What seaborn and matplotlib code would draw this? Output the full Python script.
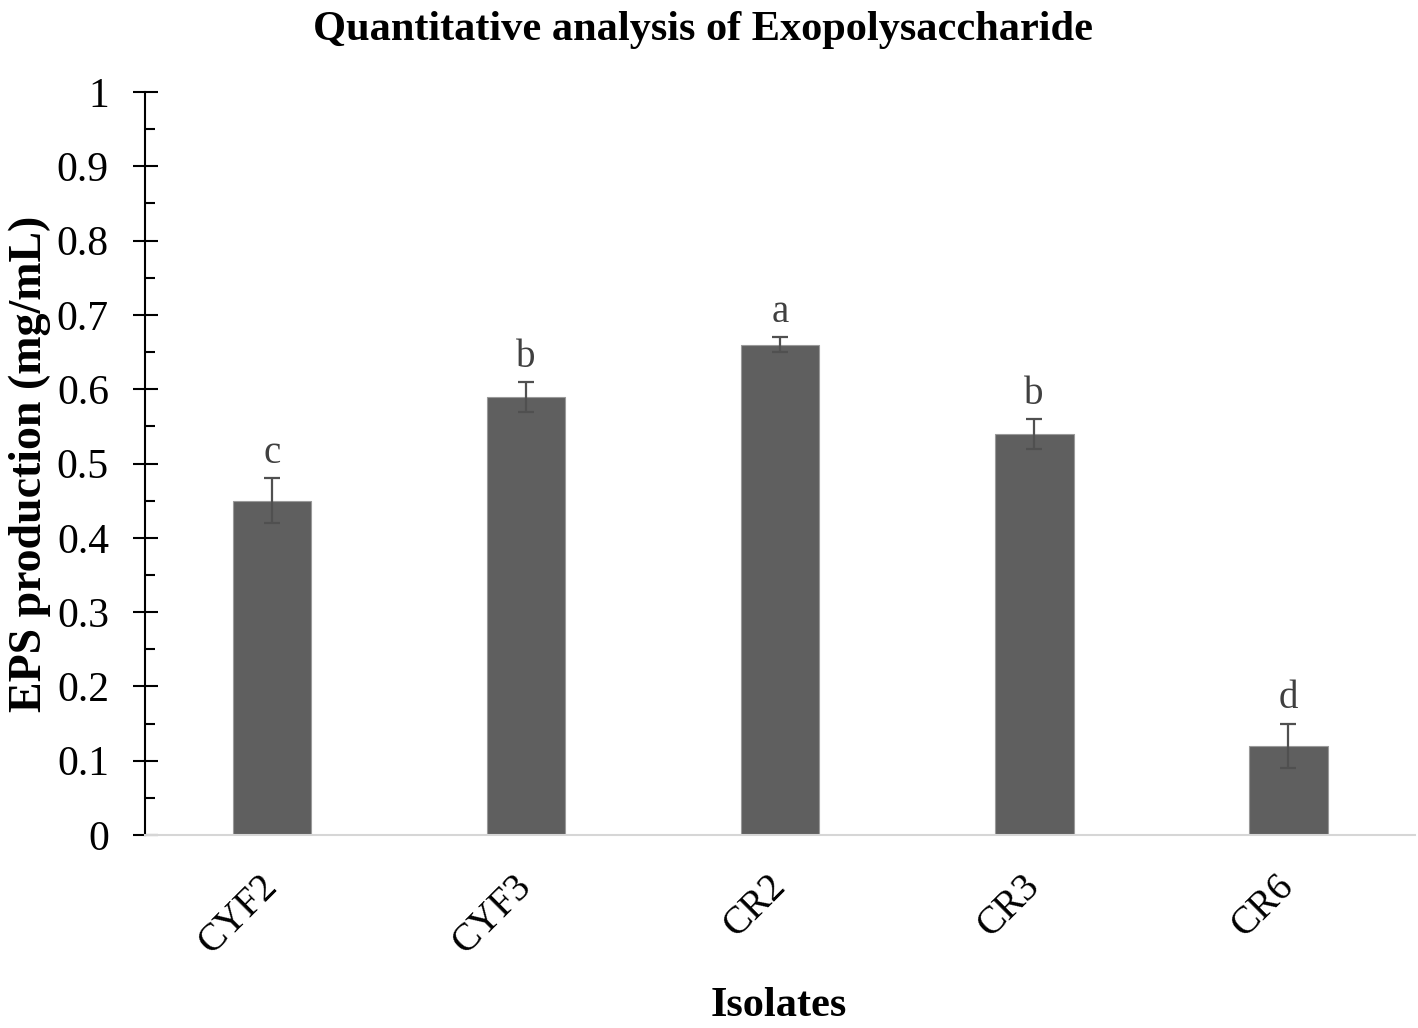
import matplotlib
matplotlib.use("Agg")
import matplotlib.pyplot as plt
import seaborn as sns
import pandas as pd
from matplotlib.ticker import MultipleLocator, FuncFormatter

isolates = ["CYF2", "CYF3", "CR2", "CR3", "CR6"]
eps = [0.45, 0.59, 0.66, 0.54, 0.12]
sd = [0.03, 0.02, 0.01, 0.02, 0.03]
letters = ["c", "b", "a", "b", "d"]

sns.set_style("white")
plt.rcParams["font.family"] = ["Liberation Serif", "DejaVu Serif"]
plt.rcParams["text.color"] = "black"
plt.rcParams["axes.labelcolor"] = "black"
plt.rcParams["xtick.color"] = "black"
plt.rcParams["ytick.color"] = "black"

df = pd.DataFrame({"isolate": isolates, "eps": eps})

fig = plt.figure(figsize=(14.18, 10.28), dpi=100)
ax = fig.add_axes([0.1023, 0.1877, 0.8957, 0.7228])

sns.barplot(data=df, x="isolate", y="eps", color="#5f5f5f", saturation=1,
            width=0.31, edgecolor="#9a9a9a", linewidth=0.8, errorbar=None, ax=ax)

ax.errorbar(range(len(isolates)), eps, yerr=sd, fmt="none", ecolor="#505050",
            elinewidth=1.6, capsize=5.8, capthick=1.6)

for i, (m, s, l) in enumerate(zip(eps, sd, letters)):
    ax.annotate(l, (i, m + s), xytext=(0, 4.5), textcoords="offset points",
                ha="center", va="bottom", fontsize=28, color="#404040")

ax.set_ylim(0, 1)
ax.set_xlim(-0.5, 4.5)
ax.yaxis.set_major_locator(MultipleLocator(0.1))
ax.yaxis.set_minor_locator(MultipleLocator(0.05))
ax.yaxis.set_major_formatter(FuncFormatter(lambda v, p: "%g" % round(v, 2)))
ax.tick_params(axis="y", which="major", direction="inout", length=18, width=1.5,
               labelsize=30, pad=17, left=True)
ax.tick_params(axis="y", which="minor", direction="in", length=7, width=1.5, left=True)
ax.tick_params(axis="x", length=0, labelsize=28, pad=33)
plt.setp(ax.get_xticklabels(), rotation=45, ha="right", va="center",
         rotation_mode="anchor")

for side in ["top", "right"]:
    ax.spines[side].set_visible(False)
ax.spines["left"].set_color("black")
ax.spines["left"].set_linewidth(1.5)
ax.spines["bottom"].set_color("#d6d6d6")
ax.spines["bottom"].set_linewidth(1.5)

ax.set_xlabel("Isolates", fontsize=30.5, fontweight="bold")
ax.xaxis.set_label_coords(0.4987, -0.204)
ax.set_ylabel("EPS production (mg/mL)", fontsize=33, fontweight="bold", labelpad=4)
fig.suptitle("Quantitative analysis of Exopolysaccharide", fontsize=30.5,
             fontweight="bold", x=0.4958, y=0.961, va="baseline")

fig.savefig("out.png", dpi=100)
